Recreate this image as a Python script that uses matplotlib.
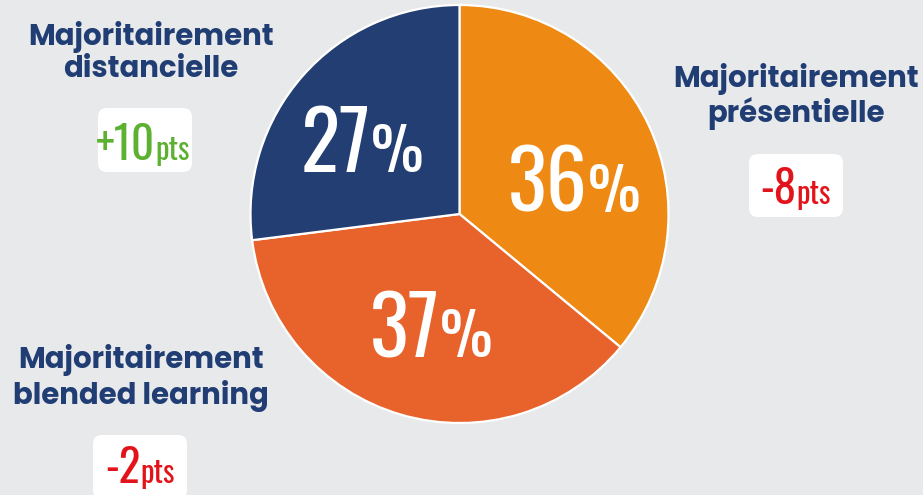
import matplotlib
matplotlib.use("Agg")
import matplotlib.pyplot as plt
from matplotlib.patches import FancyBboxPatch

# ---- data ----
shares = [36, 37, 27]
pct_labels = ["36", "37", "27"]
segment_labels = ["Majoritairement\nprésentielle",
                  "Majoritairement\nblended learning",
                  "Majoritairement\ndistancielle"]
change_values = ["-8", "-2", "+10"]
change_unit = "pts"

# ---- styles ----
W, H = 923, 495
BG = "#E8E9EB"
NAVY_TXT = "#213E74"
slice_colors = ["#EE8A13", "#E8632B", "#223E73"]
change_colors = ["#E3131B", "#E3131B", "#5CB130"]

fig = plt.figure(figsize=(W / 100, H / 100), dpi=100)
fig.patch.set_facecolor(BG)
ax = fig.add_axes([0, 0, 1, 1])
ax.set_facecolor(BG)


def Y(p):
    return H - p


center = (459.5, Y(214))
radius = 209
ax.pie(shares, colors=slice_colors, startangle=90, counterclock=False,
       center=center, radius=radius, frame=False,
       wedgeprops=dict(edgecolor="white", linewidth=1.6))
ax.set_xlim(0, W)
ax.set_ylim(0, H)
ax.set_aspect("equal")
ax.axis("off")

renderer = fig.canvas.get_renderer()


def mixed(xc, ybase, parts, color):
    objs = [ax.text(0, Y(ybase), s, fontsize=fs, family=fam, color=color,
                    va="baseline", ha="left") for s, fs, fam in parts]
    widths = [o.get_window_extent(renderer).width for o in objs]
    x = xc - sum(widths) / 2
    for o, w in zip(objs, widths):
        o.set_x(x)
        x += w


# percent labels inside slices (center x, baseline y in pixels)
pct_pos = [(574, 212), (431, 357), (362, 172)]
for lab, (xc, yb) in zip(pct_labels, pct_pos):
    mixed(xc, yb, [(lab, 58.5, "Oswald"), ("%", 42.5, "Oswald")], "white")

# category labels
label_pos = [(796, (87, 122)), (141, (368, 404)), (151, (45, 77))]
for lab, (xc, ybs) in zip(segment_labels, label_pos):
    for line, yb in zip(lab.split("\n"), ybs):
        ax.text(xc, Y(yb), line, fontsize=21, family="Poppins",
                fontweight="bold", color=NAVY_TXT, ha="center", va="baseline")

# change badges
badge_boxes = [(749, 154, 94, 63), (93, 435, 94, 64), (98, 108, 94, 64)]
badge_text = [(795, 204), (140, 483), (143, 160)]
for val, col, (bx, by, bw, bh), (xc, yb) in zip(change_values, change_colors,
                                                  badge_boxes, badge_text):
    ax.add_patch(FancyBboxPatch((bx, Y(by + bh)), bw, bh,
                                boxstyle="round,pad=0,rounding_size=9",
                                facecolor="white", edgecolor="none"))
    mixed(xc, yb, [(val, 32.5, "Oswald"), (change_unit, 22, "Oswald")], col)

fig.savefig("out.png", facecolor=BG)
